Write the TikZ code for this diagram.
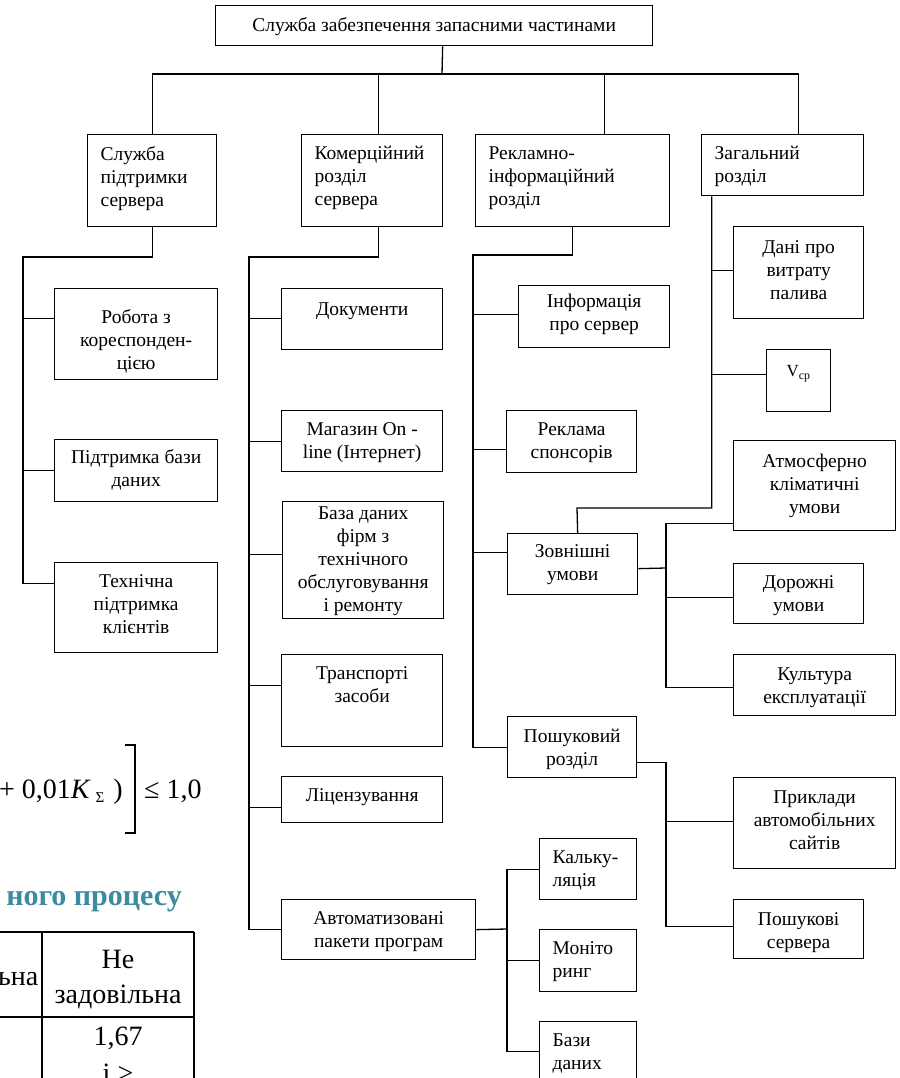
\documentclass[tikz,border=0pt]{standalone}
\usepackage{fontspec}
\setmainfont{Liberation Serif}
\definecolor{headc}{RGB}{62,139,160}
\newcommand{\bx}[4]{\parbox[c][#2pt][t]{#1pt}{\vspace*{#3pt}#4}}
\newcommand{\lft}{\raggedright\leftskip=13pt}

\begin{document}
\begin{tikzpicture}[x=1pt,y=-1pt]
	\tikzstyle{box}=[draw,line width=1.3pt,inner sep=0pt,anchor=north west,font=\fontsize{19.5}{23}\selectfont]
	\tikzstyle{link}=[line width=1.3pt]
	\tikzstyle{big}=[inner sep=0pt,font=\fontsize{28}{32}\selectfont]
	\fill[white] (0,0) rectangle (899,1078);
	\useasboundingbox (0,0) rectangle (899,1078);

	\node[box] (top) at (215,5) {\bx{437}{40}{12}{\centering Служба забезпечення запасними частинами}};
	\node[box] (sps) at (87,134) {\bx{129}{92}{12}{\lft Служба\\підтримки\\сервера}};
	\node[box] (krs) at (301,134) {\bx{141}{92}{12}{\lft Комерційний\\розділ\\сервера}};
	\node[box] (rir) at (475,134) {\bx{194}{92}{12}{\lft Рекламно-\\інформаційний\\розділ}};
	\node[box] (zr) at (701,134) {\bx{162}{61}{12}{\lft Загальний\\розділ}};

	\node[box] (rob) at (54,288) {\bx{163}{91}{21}{\centering Робота з\\кореспонден-\\цією}};
	\node[box] (pbd) at (54,439) {\bx{163}{62}{10}{\centering Підтримка бази\\даних}};
	\node[box] (tpk) at (54,562) {\bx{163}{90}{12}{\centering Технічна\\підтримка\\клієнтів}};

	\node[box] (dok) at (281,288) {\bx{161}{61}{14}{\centering Документи}};
	\node[box] (mag) at (281,410) {\bx{161}{61}{12}{\centering Магазин On -\\line (Інтернет)}};
	\node[box] (bdf) at (282,501) {\bx{161}{117}{5}{\centering База даних\\фірм з\\технічного\\обслуговування\\і ремонту}};
	\node[box] (tz) at (281,654) {\bx{161}{92}{12}{\centering Транспорті\\засоби}};
	\node[box] (lic) at (281,776) {\bx{161}{46}{12}{\centering Ліцензування}};
	\node[box] (app) at (281,899) {\bx{194}{60}{12}{\centering Автоматизовані\\пакети програм}};

	\node[box] (inf) at (518,285) {\bx{151}{62}{8}{\centering Інформація\\про сервер}};
	\node[box] (rsp) at (506,410) {\bx{130}{62}{12}{\centering Реклама\\спонсорів}};
	\node[box] (zu) at (507,533) {\bx{130}{61}{11}{\centering Зовнішні\\умови}};
	\node[box] (pr) at (507,716) {\bx{129}{61}{12}{\centering Пошуковий\\розділ}};

	\node[box] (dvp) at (733,226) {\bx{130}{92}{14}{\centering Дані про\\витрату\\палива}};
	\node[box] (vcp) at (766,349) {\bx{64}{62}{16}{\centering\fontsize{17}{19}\selectfont V\textsubscript{ср}}};
	\node[box] (akl) at (733,440) {\bx{162}{90}{13}{\centering Атмосферно\\кліматичні\\умови}};
	\node[box] (du) at (733,563) {\bx{130}{60}{12}{\centering Дорожні\\умови}};
	\node[box] (ke) at (733,654) {\bx{162}{61}{13}{\centering Культура\\експлуатації}};
	\node[box] (pas) at (733,777) {\bx{162}{91}{13}{\centering Приклади\\автомобільних\\сайтів}};
	\node[box] (ps) at (733,899) {\bx{130}{59}{13}{\centering Пошукові\\сервера}};

	\node[box] (kal) at (539,838) {\bx{97}{61}{12}{\lft Кальку-\\ляція}};
	\node[box] (mon) at (539,929) {\bx{97}{62}{12}{\lft Моніто\\ринг}};
	\node[box] (bd) at (539,1021) {\bx{97}{60}{12}{\lft Бази\\даних}};

	\coordinate (bus) at (442,74);
	\draw[link] ([xshift=0.5]sps.north) |- ([xshift=16]zr.north |- bus) -- ([xshift=16]zr.north);
	\draw[link] ([xshift=8.5]top.south) -- (bus);
	\draw[link] ([xshift=6.5]krs.north) -- ([xshift=6.5]krs.north |- bus);
	\draw[link] ([xshift=32]rir.north) -- ([xshift=32]rir.north |- bus);

	\coordinate (t1) at (23,257);
	\draw[link] ([xshift=0.5]sps.south) |- (t1) |- ([yshift=24]tpk.west);
	\draw[link] ([yshift=15.5]rob.west) -- ([yshift=15.5]rob.west -| t1);
	\draw[link] (pbd.west) -- (pbd.west -| t1);

	\coordinate (t2) at (249,257);
	\draw[link] ([xshift=6.5]krs.south) |- (t2) |- (app.west);
	\draw[link] ([yshift=0.5]dok.west) -- ([yshift=0.5]dok.west -| t2);
	\draw[link] ([yshift=-0.5]mag.west) -- ([yshift=-0.5]mag.west -| t2);
	\draw[link] ([yshift=5.5]bdf.west) -- ([yshift=5.5]bdf.west -| t2);
	\draw[link] ([yshift=15]tz.west) -- ([yshift=15]tz.west -| t2);
	\draw[link] ([yshift=-8]lic.west) -- ([yshift=-8]lic.west -| t2);

	\coordinate (t3) at (473,255);
	\draw[link] (rir.south) |- (t3) |- ([yshift=-0.5]pr.west);
	\draw[link] ([yshift=2]inf.west) -- ([yshift=2]inf.west -| t3);
	\draw[link] ([yshift=-8]rsp.west) -- ([yshift=-8]rsp.west -| t3);
	\draw[link] ([yshift=11.5]zu.west) -- ([yshift=11.5]zu.west -| t3);

	\coordinate (t4) at ([xshift=-71]zr.south);
	\coordinate (j4) at (577,508);
	\draw[link] (t4) |- (j4) -- ([xshift=5]zu.north);
	\draw[link] ([yshift=2]dvp.west) -- ([yshift=2]dvp.west -| t4);
	\draw[link] ([yshift=6]vcp.west) -- ([yshift=6]vcp.west -| t4);

	\coordinate (t5) at (666,568);
	\draw[link] ([yshift=-4.5]zu.east) -- (t5);
	\draw[link] ([yshift=-38]akl.west) -| ([yshift=-2.5]ke.west -| t5) -- ([yshift=-2.5]ke.west);
	\draw[link] ([yshift=-4]du.west) -- ([yshift=-4]du.west -| t5);

	\coordinate (t6) at (666,762);
	\draw[link] ([yshift=-15.5]pr.east) -| ([yshift=2.5]ps.west -| t6) -- ([yshift=2.5]ps.west);
	\draw[link] ([yshift=1.5]pas.west) -- ([yshift=1.5]pas.west -| t6);

	\coordinate (t7) at (507,929);
	\draw[link] (app.east) -- (t7);
	\draw[link] ([yshift=-0.5]kal.west) -| (bd.west -| t7) -- (bd.west);
	\draw[link] (mon.west) -- (mon.west -| t7);

	\node[big,anchor=base west] (fa) at (-1,798) {+ 0,01\textit{K}\,\raisebox{-4pt}{\fontsize{15}{15}\selectfont Σ}\hspace{9pt})};
	\draw[line width=1.5pt] (125,745) -- (135,745) -- (135,833) -- (125,833);
	\node[big,anchor=base west] (fb) at (144,798) {≤ 1,0};

	\node[inner sep=0pt,anchor=base east,text=headc,font=\bfseries\fontsize{30}{33}\selectfont] (head) at (182,905) {ного процесу};

	\draw[line width=2pt] (0,932) -- (194,932);
	\draw[line width=2pt] (0,1017) -- (194,1017);
	\draw[line width=2pt] (42,932) -- (42,1090);
	\draw[line width=2pt] (194,932) -- (194,1090);
	\node[big,anchor=base east] (c1) at (38.5,985) {льна};
	\node[big,anchor=base] (c2) at (118,968) {Не};
	\node[big,anchor=base] (c3) at (118,1003) {задовільна};
	\node[big,anchor=base] (c4) at (118,1045) {1,67};
	\node[big,anchor=base] (c5) at (118,1082) {і >};
\end{tikzpicture}
\end{document}
